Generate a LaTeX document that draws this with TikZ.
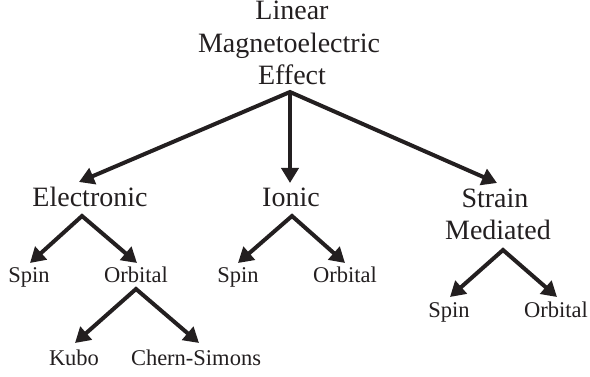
\documentclass[tikz,border=0pt]{standalone}
\usepackage{fontspec}
\setmainfont{Liberation Serif}
\usetikzlibrary{arrows.meta}
\definecolor{ink}{HTML}{231F20}
\begin{document}
\begin{tikzpicture}[x=1pt,y=-1pt,
  big/.style={font=\fontsize{28}{32.5}\selectfont, text=ink, inner sep=0pt, anchor=base, align=center},
  small/.style={font=\fontsize{22.5}{26}\selectfont, text=ink, inner sep=0pt, anchor=base},
  arr/.style={draw=ink, line width=4pt, line join=miter, -{Triangle[length=15pt,width=17pt]}},
  arr2/.style={draw=ink, line width=4pt, line join=miter, {Triangle[length=15pt,width=17pt]}-{Triangle[length=15pt,width=17pt]}}]
\useasboundingbox (0,0) rectangle (590,377);
% texts
\node[big] (lin) at (292,20) {Linear};
\node[big] (mag) at (289,53) {Magnetoelectric};
\node[big] (eff) at (292,85) {Effect};
\node[big] (elec) at (90,207) {Electronic};
\node[big] (ion) at (291,207) {Ionic};
\node[big] (str) at (495,208) {Strain};
\node[big] (med) at (498,240) {Mediated};
\node[small] (es) at (29,283) {Spin};
\node[small] (eo) at (136,283) {Orbital};
\node[small] (is) at (238,283) {Spin};
\node[small] (io) at (345,283) {Orbital};
\node[small] (ss) at (449,317) {Spin};
\node[small] (so) at (556,317) {Orbital};
\node[small] (kub) at (74,365) {Kubo};
\node[small] (chs) at (196,365) {Chern-Simons};
% connector points
\coordinate (ra) at (290,92);
\coordinate (rE) at (79,182);
\coordinate (rI) at (290,183);
\coordinate (rS) at (497,183);
\coordinate (ea) at (82,216);
\coordinate (eS) at (30,263);
\coordinate (eO) at (137,263);
\coordinate (ia) at (292,216);
\coordinate (iS) at (238,263);
\coordinate (iO) at (345,263);
\coordinate (sa) at (503,250);
\coordinate (sS) at (450,297);
\coordinate (sO) at (557,297);
\coordinate (oa) at (136,289);
\coordinate (oK) at (75,343);
\coordinate (oC) at (199,343);
% connectors
\draw[arr2] (rE) -- (ra) -- (rS);
\draw[arr] (ra) -- (rI);
\draw[arr2] (eS) -- (ea) -- (eO);
\draw[arr2] (iS) -- (ia) -- (iO);
\draw[arr2] (sS) -- (sa) -- (sO);
\draw[arr2] (oK) -- (oa) -- (oC);
\end{tikzpicture}
\end{document}
